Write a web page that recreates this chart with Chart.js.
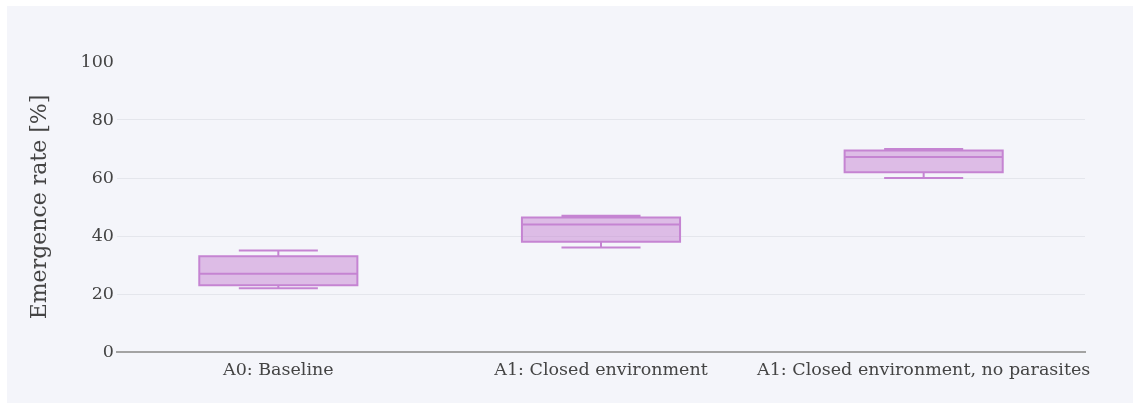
<!DOCTYPE html>
<html>
<head>
<meta charset="utf-8">
<script src="https://cdn.jsdelivr.net/npm/chart.js@4.4.1/dist/chart.umd.min.js"></script>
<style>
  html, body { margin: 0; padding: 0; background: #ffffff; }
  #wrap { width: 1133px; height: 405px; position: relative; }
</style>
</head>
<body>
<div id="wrap"><canvas id="chart" width="1133" height="405"></canvas></div>
<script>
// Emergence rate per treatment, summarised as box statistics (%)
const categories = ['A0: Baseline', 'A1: Closed environment', 'A1: Closed environment, no parasites'];
const lowerWhisker = [22, 36, 60];
const q1 = [23, 38, 62];
const median = [27, 44, 67.2];
const q3 = [33, 46.4, 69.5];
const upperWhisker = [35, 47, 70];
const yTicks = [0, 20, 40, 60, 80, 100];

const LINE = 'rgb(197,132,210)';
const FILL = 'rgba(197,132,210,0.5)';
const BG = '#f4f5fa';
const FONT = 'DejaVu Serif';

// Paper background
const backgroundPlugin = {
  id: 'paperBackground',
  beforeDraw(chart) {
    const ctx = chart.ctx;
    ctx.save();
    ctx.fillStyle = '#ffffff';
    ctx.fillRect(0, 0, chart.width, chart.height);
    ctx.fillStyle = BG;
    ctx.fillRect(7, 6, chart.width - 7, chart.height - 8);
    ctx.restore();
  }
};

// Box outlines, whiskers, caps and median lines
const boxPlugin = {
  id: 'boxWhiskers',
  afterDatasetsDraw(chart) {
    const ctx = chart.ctx;
    const x = chart.scales.x;
    const y = chart.scales.y;
    const meta = chart.getDatasetMeta(0);
    ctx.save();
    ctx.strokeStyle = LINE;
    ctx.lineWidth = 2;
    categories.forEach((c, i) => {
      const cx = x.getPixelForValue(i);
      const half = meta.data[i].width / 2;
      const capHalf = half / 2;
      const yMin = y.getPixelForValue(lowerWhisker[i]);
      const yQ1 = y.getPixelForValue(q1[i]);
      const yMed = y.getPixelForValue(median[i]);
      const yQ3 = y.getPixelForValue(q3[i]);
      const yMax = y.getPixelForValue(upperWhisker[i]);
      ctx.beginPath();
      ctx.rect(cx - half, yQ3, 2 * half, yQ1 - yQ3);
      // upper whisker
      ctx.moveTo(cx, yQ3); ctx.lineTo(cx, yMax);
      ctx.moveTo(cx - capHalf, yMax); ctx.lineTo(cx + capHalf, yMax);
      // lower whisker
      ctx.moveTo(cx, yQ1); ctx.lineTo(cx, yMin);
      ctx.moveTo(cx - capHalf, yMin); ctx.lineTo(cx + capHalf, yMin);
      // median
      ctx.moveTo(cx - half, yMed); ctx.lineTo(cx + half, yMed);
      ctx.stroke();
    });
    ctx.restore();
  }
};

new Chart(document.getElementById('chart'), {
  type: 'bar',
  data: {
    labels: categories,
    datasets: [{
      data: categories.map((c, i) => [q1[i], q3[i]]),
      backgroundColor: FILL,
      borderWidth: 0,
      barPercentage: 0.49,
      categoryPercentage: 1.0
    }]
  },
  options: {
    responsive: false,
    animation: false,
    events: [],
    layout: { padding: { top: 62, right: 48, left: 0, bottom: 0 } },
    plugins: {
      legend: { display: false },
      tooltip: { enabled: false }
    },
    scales: {
      x: {
        grid: { display: false },
        border: { display: true, color: '#a3a3a3', width: 2 },
        ticks: {
          color: '#444',
          font: { family: FONT, size: 17.5 },
          padding: 0,
          maxRotation: 0,
          autoSkip: false
        },
        afterFit(scale) { scale.height = 53; }
      },
      y: {
        min: 0,
        max: 100,
        afterBuildTicks(scale) { scale.ticks = yTicks.map(v => ({ value: v })); },
        grid: {
          drawTicks: false,
          color: (ctx) => (ctx.tick && (ctx.tick.value === 0 || ctx.tick.value === 100)) ? 'rgba(0,0,0,0)' : '#e4e6ec',
          lineWidth: 1
        },
        border: { display: false },
        ticks: {
          color: '#444',
          font: { family: FONT, size: 17.5 },
          padding: 3
        },
        title: {
          display: true,
          text: 'Emergence rate [%]',
          color: '#444',
          font: { family: FONT, size: 22 },
          padding: { top: 27, bottom: 0 }
        },
        afterFit(scale) { scale.width = 117; }
      }
    }
  },
  plugins: [backgroundPlugin, boxPlugin]
});
</script>
</body>
</html>
